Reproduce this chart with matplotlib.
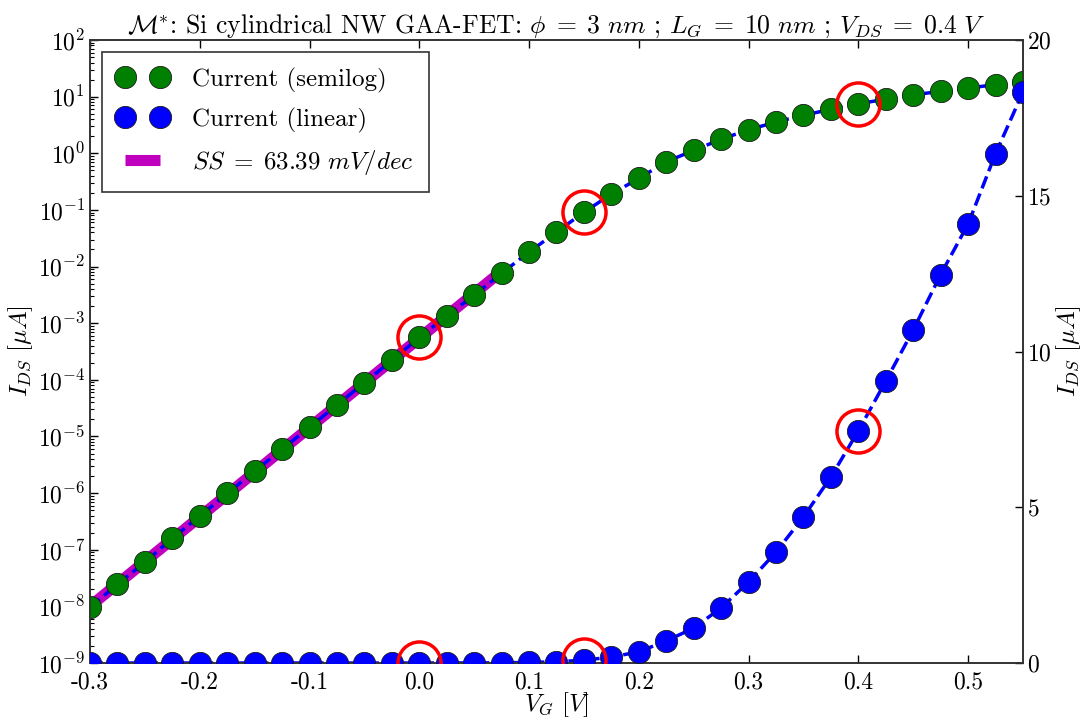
import matplotlib
matplotlib.use("Agg")
import matplotlib.pyplot as plt
import matplotlib.ticker as mticker
import numpy as np

plt.rcParams['font.family'] = 'cmr10'
plt.rcParams['mathtext.fontset'] = 'cm'
plt.rcParams['axes.formatter.use_mathtext'] = True
plt.rcParams['axes.unicode_minus'] = False

# gate voltage sweep [V] and drain current [uA]
vg = [-0.3, -0.275, -0.25, -0.225, -0.2, -0.175, -0.15, -0.125, -0.1, -0.075,
      -0.05, -0.025, 0.0, 0.025, 0.05, 0.075, 0.1, 0.125, 0.15, 0.175,
      0.2, 0.225, 0.25, 0.275, 0.3, 0.325, 0.35, 0.375, 0.4, 0.425,
      0.45, 0.475, 0.5, 0.525, 0.55]
ids = [9.6e-9, 2.45e-8, 6.0e-8, 1.59e-7, 3.9e-7, 9.9e-7, 2.43e-6, 5.94e-6, 1.46e-5, 3.6e-5,
       8.9e-5, 2.2e-4, 5.6e-4, 1.33e-3, 3.13e-3, 7.6e-3, 1.8e-2, 4.05e-2, 9.1e-2, 0.19,
       0.36, 0.71, 1.12, 1.77, 2.6, 3.56, 4.69, 5.97, 7.45, 9.05,
       10.69, 12.47, 14.09, 16.35, 18.33]

# highlighted bias points
marked_vg = [0.0, 0.15, 0.4]

# subthreshold swing fit
ss_mv_dec = 63.39
fit_range = (-0.3, 0.075)

xticks = [-0.3, -0.2, -0.1, 0.0, 0.1, 0.2, 0.3, 0.4, 0.5]
xticklabels = ['-0.3', '-0.2', '-0.1', '0.0', '0.1', '0.2', '0.3', '0.4', '0.5']
yticks_lin = [0, 5, 10, 15, 20]

v = np.array(vg)
i = np.array(ids)
idx = [int(np.argmin(np.abs(v - m))) for m in marked_vg]

# fixed-slope fit through subthreshold points
sel = (v >= fit_range[0]) & (v <= fit_range[1])
ss = ss_mv_dec / 1000.0
log_i0 = np.mean(np.log10(i[sel]) - v[sel] / ss)
v_fit = v[sel]
i_fit = 10 ** (log_i0 + v_fit / ss)

fig = plt.figure(figsize=(10.84, 7.22), dpi=100)
ax1 = fig.add_axes([0.083, 0.0817, 0.8607, 0.8629])
ax2 = ax1.twinx()

fs = 17
ms = 16

# semilog
l_fit, = ax1.semilogy(v_fit, i_fit, '-', color='m', lw=8, solid_capstyle='butt', zorder=1)
ax1.semilogy(v, i, '--', color='b', lw=2.5, zorder=2)
l_semi, = ax1.semilogy(v, i, 'o', color='g', ms=ms, mec='#1a1a1a', mew=0.6, zorder=3)
ax1.semilogy(v[idx], i[idx], 'o', mfc='none', mec='r', ms=31, mew=2.5, zorder=4)

# linear
ax2.plot(v, i, '--', color='b', lw=2.5, zorder=2)
l_lin, = ax2.plot(v, i, 'o', color='b', ms=ms, mec='#1a1a1a', mew=0.6, zorder=3)
ax2.plot(v[idx], i[idx], 'o', mfc='none', mec='r', ms=31, mew=2.5, zorder=4)

ax1.set_xlim(-0.3, 0.55)
ax1.set_ylim(1e-9, 1e2)
ax2.set_ylim(0, 20)
ax1.set_xticks(xticks)
ax1.set_xticklabels(xticklabels)
ax1.yaxis.set_major_locator(mticker.LogLocator(base=10, numticks=30))
ax1.yaxis.set_minor_locator(mticker.LogLocator(base=10, subs=np.arange(2, 10), numticks=30))
ax1.yaxis.set_minor_formatter(mticker.NullFormatter())
ax2.set_yticks(yticks_lin)

ax1.tick_params(axis='both', which='both', direction='in', labelsize=fs, top=True)
ax1.tick_params(which='major', length=6, width=1)
ax1.tick_params(which='minor', length=3, width=0.8)
ax1.tick_params(axis='x', pad=6)
ax2.tick_params(axis='y', which='both', direction='in', labelsize=fs, length=6, width=1, pad=3)

ax1.set_xlabel(r'$V_G\ [V]$', fontsize=fs + 1, labelpad=-2)
ax1.set_ylabel(r'$I_{DS}\ [\mu A]$', fontsize=fs + 1, labelpad=2)
ax2.set_ylabel(r'$I_{DS}\ [\mu A]$', fontsize=fs + 1, labelpad=2)
ax1.set_title(r'$\mathcal{M}^{*}$: Si cylindrical NW GAA-FET: $\phi\;=\;3\ nm$ ; '
              r'$L_G\;=\;10\ nm$ ; $V_{DS}\;=\;0.4\ V$', fontsize=18.5, pad=5)

for ax in (ax1, ax2):
    for s in ax.spines.values():
        s.set_color('#333333')
        s.set_linewidth(1.2)

leg = ax2.legend([l_semi, l_lin, l_fit],
                 ['Current (semilog)', 'Current (linear)', r'$SS\;=\;%.2f\ mV/dec$' % ss_mv_dec],
                 loc='upper left', numpoints=2, fontsize=18, fancybox=False,
                 framealpha=1, edgecolor='#333333', handlelength=2.0, borderaxespad=0.5,
                 borderpad=0.6, labelspacing=0.6, handletextpad=1.0)
leg.get_frame().set_linewidth(1.2)

fig.savefig('out.png', dpi=100, facecolor='white')
